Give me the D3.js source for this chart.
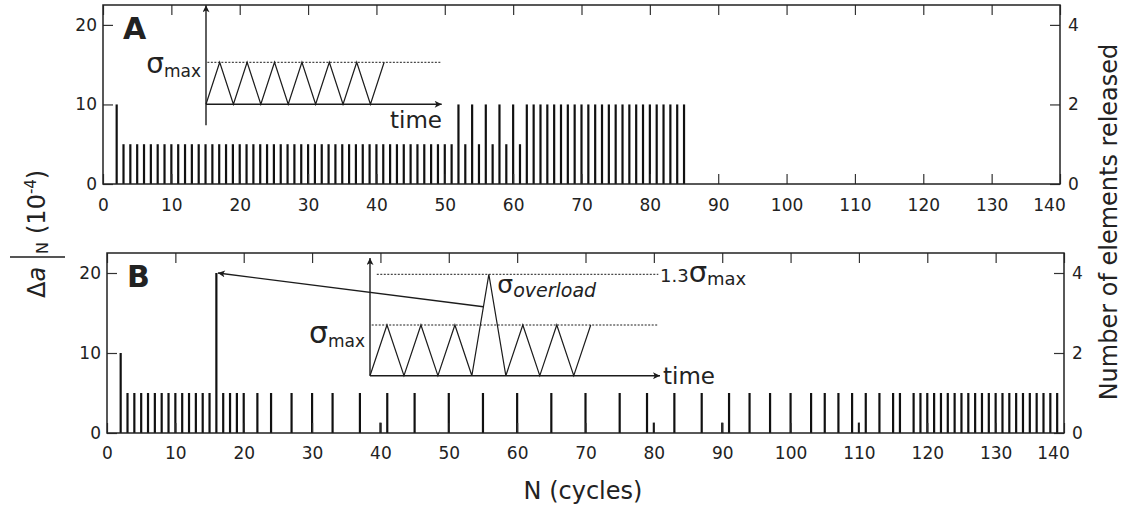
<!DOCTYPE html>
<meta charset="utf-8">
<style>
  body {margin: 0; background: #fff;}
  svg {display: block; font-family: "DejaVu Sans", sans-serif;}
  text {fill: #222;}
</style>
<svg width="1124" height="507"></svg>
<script src="https://cdn.jsdelivr.net/npm/d3@7/dist/d3.min.js"></script>
<script>
  // ---------------------------------------------------------------------------
  // data : crack increment per cycle (1e-4), one bar per released element
  // ---------------------------------------------------------------------------
  const cyclesA = [2,3,4,5,6,7,8,9,10,11,12,13,14,15,16,17,18,19,20,21,22,23,24,25,26,
    27,28,29,30,31,32,33,34,35,36,37,38,39,40,41,42,43,44,45,46,47,48,49,50,51,52,53,54,
    55,56,57,58,59,60,61,62,63,64,65,66,67,68,69,70,71,72,73,74,75,76,77,78,79,80,81,82,
    83,84,85];
  const deltaA = [10,5,5,5,5,5,5,5,5,5,5,5,5,5,5,5,5,5,5,5,5,5,5,5,5,
    5,5,5,5,5,5,5,5,5,5,5,5,5,5,5,5,5,5,5,5,5,5,5,5,5,10,5,10,
    5,10,5,10,5,10,5,10,10,10,10,10,10,10,10,10,10,10,10,10,10,10,10,10,10,10,10,10,
    10,10,10];

  const cyclesB = [2,3,4,5,6,7,8,9,10,11,12,13,14,15,16,17,18,19,20,22,24,27,30,33,37,
    40,41,45,50,55,60,65,70,75,79,80,83,87,90,91,94,97,100,103,105,107,109,110,111,113,
    115,116,118,119,120,121,122,123,124,125,126,127,128,129,130,131,132,133,134,135,136,
    137,138,139];
  const deltaB = [10,5,5,5,5,5,5,5,5,5,5,5,5,5,20,5,5,5,5,5,5,5,5,5,5,
    1.3,5,5,5,5,5,5,5,5,5,1.3,5,5,1.3,5,5,5,5,5,5,5,5,1.3,5,5,
    5,5,5,5,5,5,5,5,5,5,5,5,5,5,5,5,5,5,5,5,5,
    5,5,5];

  const xTicks = [0,10,20,30,40,50,60,70,80,90,100,110,120,130,140];
  const leftTicks = [0,10,20];
  const rightTicks = [0,2,4];

  // loading schematics (time in cycles, stress in units of sigma_max on the sketch)
  const waveTimeA = [0,0.5,1,1.5,2,2.5,3,3.5,4,4.5,5,5.5,6,6.5];
  const waveStressA = [0,1,0,1,0,1,0,1,0,1,0,1,0,1];
  const waveTimeB = [0,0.5,1,1.5,2,2.5,3,3.5,4,4.5,5,5.5,6,6.5];
  const waveStressB = [0,1,0,1,0,1,0,2,0,1,0,1,0,1];

  // ---------------------------------------------------------------------------
  // setup
  // ---------------------------------------------------------------------------
  const svg = d3.select("svg");
  const ink = "#1c1c1c";

  const defs = svg.append("defs");
  defs.append("marker")
      .attr("id", "head")
      .attr("viewBox", "0 0 10 10")
      .attr("refX", 10).attr("refY", 5)
      .attr("markerWidth", 9).attr("markerHeight", 7)
      .attr("markerUnits", "userSpaceOnUse")
      .attr("orient", "auto")
    .append("path")
      .attr("d", "M0,0L10,5L0,10L2.5,5Z")
      .attr("fill", ink);

  const panels = [
    {name: "A", cycles: cyclesA, delta: deltaA, left: 103, right: 1060, top: 5, bottom: 184, pad: 15},
    {name: "B", cycles: cyclesB, delta: deltaB, left: 107, right: 1064, top: 253, bottom: 433, pad: 14}
  ];

  panels.forEach(function(p) {
    p.x = d3.scaleLinear().domain([0, 140]).range([p.left, p.right]);
    p.y = d3.scaleLinear().domain([0, 22.5]).range([p.bottom, p.top]);
    p.yR = d3.scaleLinear().domain([0, 4.5]).range([p.bottom, p.top]);
    const g = svg.append("g");

    // bars
    g.append("g").selectAll("line")
      .data(p.cycles)
      .enter().append("line")
        .attr("x1", function(d) { return p.x(d); })
        .attr("x2", function(d) { return p.x(d); })
        .attr("y1", p.y(0))
        .attr("y2", function(d, i) { return p.y(p.delta[i]); })
        .attr("stroke", "#111")
        .attr("stroke-width", 2.2);

    // axes, ticks pointing inward
    const bx = g.append("g").attr("transform", "translate(0," + p.bottom + ")")
      .call(d3.axisBottom(p.x).tickValues(xTicks).tickSizeInner(-10).tickSizeOuter(0).tickPadding(p.pad));
    bx.selectAll("text").filter(function(d) { return d === 140; }).attr("dx", -11);
    g.append("g").attr("transform", "translate(0," + p.top + ")")
      .call(d3.axisTop(p.x).tickValues(xTicks).tickSizeInner(-10).tickSizeOuter(0).tickFormat(""));
    g.append("g").attr("transform", "translate(" + p.left + ",0)")
      .call(d3.axisLeft(p.y).tickValues(leftTicks).tickSizeInner(-10).tickSizeOuter(0).tickPadding(6)
        .tickFormat(d3.format("d")));
    g.append("g").attr("transform", "translate(" + p.right + ",0)")
      .call(d3.axisRight(p.yR).tickValues(rightTicks).tickSizeInner(-10).tickSizeOuter(0).tickPadding(8)
        .tickFormat(d3.format("d")));

    g.selectAll(".domain").remove();
    g.selectAll(".tick line").attr("stroke", "#333").attr("stroke-width", 1.2);
    g.selectAll(".tick text").attr("font-size", 17).attr("font-family", "DejaVu Sans").attr("fill", "#222");

    g.append("rect")
      .attr("x", p.left).attr("y", p.top)
      .attr("width", p.right - p.left).attr("height", p.bottom - p.top)
      .attr("fill", "none").attr("stroke", "#222").attr("stroke-width", 1.5);

    g.append("text")
      .attr("x", p.left + 20).attr("y", p.top + 34)
      .attr("font-size", 30).attr("font-weight", "bold")
      .text(p.name);
    p.g = g;
  });

  // ---------------------------------------------------------------------------
  // loading schematics
  // ---------------------------------------------------------------------------
  function schematic(g, o) {
    const tx = d3.scaleLinear().domain([0, o.tMax]).range([o.x0, o.x1]);
    const sy = d3.scaleLinear().domain([0, 1]).range([o.y0, o.y1]);
    const line = d3.line()
      .x(function(d) { return tx(d[0]); })
      .y(function(d) { return sy(d[1]); });

    // dotted reference levels
    o.levels.forEach(function(l) {
      g.append("line")
        .attr("x1", tx(l.from)).attr("x2", tx(o.tMax - 0.05))
        .attr("y1", sy(l.s)).attr("y2", sy(l.s))
        .attr("stroke", ink).attr("stroke-width", 1).attr("stroke-dasharray", "2,1.5");
    });

    g.append("path")
      .datum(d3.zip(o.time, o.stress))
      .attr("d", line)
      .attr("fill", "none").attr("stroke", ink).attr("stroke-width", 1.2);

    g.append("line")
      .attr("x1", tx(0)).attr("x2", tx(o.tMax))
      .attr("y1", sy(0)).attr("y2", sy(0))
      .attr("stroke", ink).attr("stroke-width", 1.4).attr("marker-end", "url(#head)");
    g.append("line")
      .attr("x1", tx(0)).attr("x2", tx(0))
      .attr("y1", sy(o.sMin)).attr("y2", sy(o.sMax))
      .attr("stroke", ink).attr("stroke-width", 1.4).attr("marker-end", "url(#head)");

    // sigma_max label
    const sm = g.append("text")
      .attr("x", tx(0) - 5).attr("y", sy(1) + o.labelDy)
      .attr("text-anchor", "end");
    sm.append("tspan").attr("font-size", o.sigmaSize).text("σ");
    sm.append("tspan").attr("font-size", 17).attr("dy", 4).text("max");

    g.append("text")
      .attr("x", o.timeX).attr("y", o.timeY)
      .attr("text-anchor", o.timeAnchor)
      .attr("font-size", 23)
      .text("time");
    return {tx: tx, sy: sy};
  }

  schematic(panels[0].g, {
    time: waveTimeA, stress: waveStressA,
    tMax: 8.6, x0: 206, x1: 441.7, y0: 104.3, y1: 62.3,
    sMin: -0.5, sMax: 2.36,
    levels: [{s: 1, from: 0.05}],
    labelDy: 11, sigmaSize: 28, timeX: 442, timeY: 128, timeAnchor: "end"
  });

  const sb = schematic(panels[1].g, {
    time: waveTimeB, stress: waveStressB,
    tMax: 8.54, x0: 370, x1: 660, y0: 375.7, y1: 325,
    sMin: 0, sMax: 2.32,
    levels: [{s: 1, from: 0.05}, {s: 2, from: 0.2}],
    labelDy: 18, sigmaSize: 30, timeX: 663, timeY: 384, timeAnchor: "start"
  });

  const gB = panels[1].g;
  // 1.3 sigma_max
  const t13 = gB.append("text").attr("x", sb.tx(8.54)).attr("y", sb.sy(2) + 8);
  t13.append("tspan").attr("font-size", 18).text("1.3");
  t13.append("tspan").attr("font-size", 29).text("σ");
  t13.append("tspan").attr("font-size", 18).attr("dy", 3).text("max");

  // sigma_overload
  const tov = gB.append("text").attr("x", sb.tx(3.75)).attr("y", sb.sy(2) + 19);
  tov.append("tspan").attr("font-size", 25).text("σ");
  tov.append("tspan").attr("font-size", 19).attr("font-style", "italic").attr("dy", 4).text("overload");

  // arrow from the overload to the cycle where it was applied
  const pB = panels[1];
  gB.append("line")
    .attr("x1", sb.tx(3.34)).attr("y1", sb.sy(1.36))
    .attr("x2", pB.x(16) + 1.5).attr("y2", pB.y(20))
    .attr("stroke", ink).attr("stroke-width", 1.3)
    .attr("marker-end", "url(#head)");

  // ---------------------------------------------------------------------------
  // axis titles
  // ---------------------------------------------------------------------------
  svg.append("text")
    .attr("x", 583).attr("y", 499)
    .attr("text-anchor", "middle")
    .attr("font-size", 24)
    .text("N (cycles)");

  svg.append("text")
    .attr("transform", "translate(1117,222) rotate(-90)")
    .attr("text-anchor", "middle")
    .attr("font-size", 24)
    .text("Number of elements released");

  const lt = svg.append("g").attr("transform", "translate(45,298) rotate(-90)");
  const ltt = lt.append("text").attr("x", 0).attr("y", 0).attr("font-size", 24);
  ltt.append("tspan").text("Δ");
  ltt.append("tspan").attr("font-style", "italic").text("a");
  ltt.append("tspan").attr("x", 44).attr("dy", 3).attr("font-size", 16).text("N");
  ltt.append("tspan").attr("x", 64).attr("dy", -3).text("(10");
  ltt.append("tspan").attr("dy", -9).attr("font-size", 15).text("-4");
  ltt.append("tspan").attr("dy", 9).text(")");
  lt.append("line")
    .attr("x1", 41).attr("x2", 41).attr("y1", -35).attr("y2", 20)
    .attr("stroke", ink).attr("stroke-width", 1.3);
</script>
